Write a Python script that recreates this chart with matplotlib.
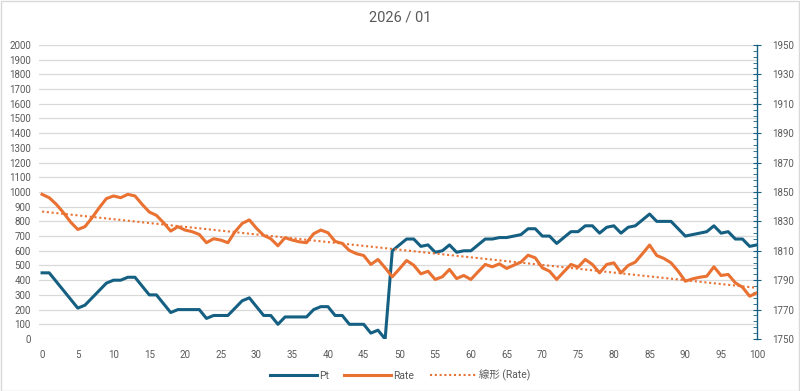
import numpy as np
import matplotlib
matplotlib.use("Agg")
import matplotlib.pyplot as plt
from matplotlib.ticker import MultipleLocator

plt.rcParams['font.family'] = ['Roboto', 'Noto Sans CJK JP', 'DejaVu Sans']

title = "2026 / 01"
days = list(range(0, 101))

# Pt (left axis)
pt = [450, 450, 390, 330, 270, 210, 230, 280, 330, 380,
      400, 400, 420, 420, 360, 300, 300, 240, 180, 200,
      200, 200, 200, 140, 160, 160, 160, 210, 260, 280,
      220, 160, 160, 100, 150, 150, 150, 150, 200, 220,
      220, 160, 160, 100, 100, 100, 40, 60, 0, 600,
      640, 680, 680, 630, 640, 590, 600, 640, 590, 600,
      600, 640, 680, 680, 690, 690, 700, 710, 750, 750,
      700, 700, 650, 690, 730, 730, 770, 770, 720, 760,
      770, 720, 760, 770, 810, 850, 800, 800, 800, 750,
      700, 710, 720, 730, 770, 720, 730, 680, 680, 630,
      640]

# Rate (right axis)
rate = [1848.4, 1846.1, 1841.6, 1835.9, 1829.5, 1824.5, 1826.4, 1832.5, 1839.3, 1845.5,
        1847.3, 1846.1, 1848.4, 1847.3, 1841.6, 1836.4, 1834.1, 1829.1, 1823.4, 1826.4,
        1824.1, 1823.0, 1821.1, 1815.5, 1818.2, 1817.3, 1815.5, 1823.0, 1828.6, 1831.0,
        1825.3, 1820.5, 1818.2, 1813.4, 1818.9, 1817.3, 1816.1, 1815.5, 1821.6, 1824.1,
        1822.3, 1816.4, 1815.0, 1810.2, 1808.0, 1806.8, 1800.7, 1804.1, 1798.4, 1792.3,
        1797.7, 1803.4, 1800.2, 1794.3, 1796.1, 1790.5, 1792.3, 1797.3, 1791.1, 1793.2,
        1790.5, 1795.7, 1800.7, 1799.1, 1801.1, 1798.0, 1800.2, 1802.3, 1807.0, 1805.2,
        1798.4, 1796.1, 1790.5, 1795.7, 1800.7, 1798.9, 1804.1, 1800.7, 1795.0, 1800.7,
        1801.8, 1795.0, 1800.0, 1802.3, 1808.0, 1813.9, 1806.8, 1804.8, 1801.8, 1796.1,
        1789.3, 1790.9, 1792.0, 1792.7, 1799.1, 1793.2, 1793.9, 1788.2, 1785.2, 1779.1,
        1781.4]

right_ticks = list(range(1750, 1951, 20))
right_minor = list(range(1750, 1951, 4))

pt_color = "#156082"
rate_color = "#E97132"
text_color = "#595959"
grid_color = "#D9D9D9"

fig = plt.figure(figsize=(8, 3.91), dpi=100)
ax = fig.add_axes([0.049, 0.133, 0.897, 0.752])
ax2 = ax.twinx()

ax.plot(days, pt, color=pt_color, lw=2.2, label="Pt", zorder=3)
ax2.plot(days, rate, color=rate_color, lw=2.2, label="Rate", zorder=3)

# linear trendline of Rate
k, b = np.polyfit(days, rate, 1)
trend = [k * d + b for d in days]
ax2.plot(days, trend, color=rate_color, lw=1.5, ls=(0, (1, 1.3)), label="線形 (Rate)", zorder=2)

ax.set_xlim(-0.4, 100)
ax.set_ylim(0, 2000)
ax2.set_ylim(1750, 1950)

ax.xaxis.set_major_locator(MultipleLocator(5))
ax.yaxis.set_major_locator(MultipleLocator(100))
ax2.set_yticks(right_ticks)
ax2.set_yticks(right_minor, minor=True)

ax.grid(axis="y", color=grid_color, lw=0.9)
ax.set_axisbelow(True)
for s in ["top", "right", "left", "bottom"]:
    ax.spines[s].set_visible(False)
for s in ["top", "left", "bottom"]:
    ax2.spines[s].set_visible(False)
ax2.spines["right"].set_color(pt_color)
ax2.spines["right"].set_linewidth(1.0)

ax.tick_params(axis="both", length=0, labelsize=7, labelcolor=text_color, pad=6)
ax.tick_params(axis="x", pad=8)
ax2.tick_params(axis="y", which="major", direction="inout", length=6, color=pt_color,
                labelsize=7, labelcolor=text_color, pad=8)
ax2.tick_params(axis="y", which="minor", direction="in", length=3, color=pt_color)

fig.text(0.5, 0.955, title, ha="center", va="center", fontsize=10.5, color=text_color)

h1, l1 = ax.get_legend_handles_labels()
h2, l2 = ax2.get_legend_handles_labels()
fig.legend(h1 + h2, l1 + l2, loc="center", bbox_to_anchor=(0.5, 0.04), ncol=3,
           frameon=False, fontsize=7.5, labelcolor=text_color, handlelength=4.5,
           columnspacing=1.5, handletextpad=0.2)

fig.patches.append(plt.Rectangle((0.001, 0.001), 0.998, 0.997, transform=fig.transFigure,
                                 fill=False, edgecolor="#D9D9D9", lw=1))

fig.savefig("out.png", dpi=100)
